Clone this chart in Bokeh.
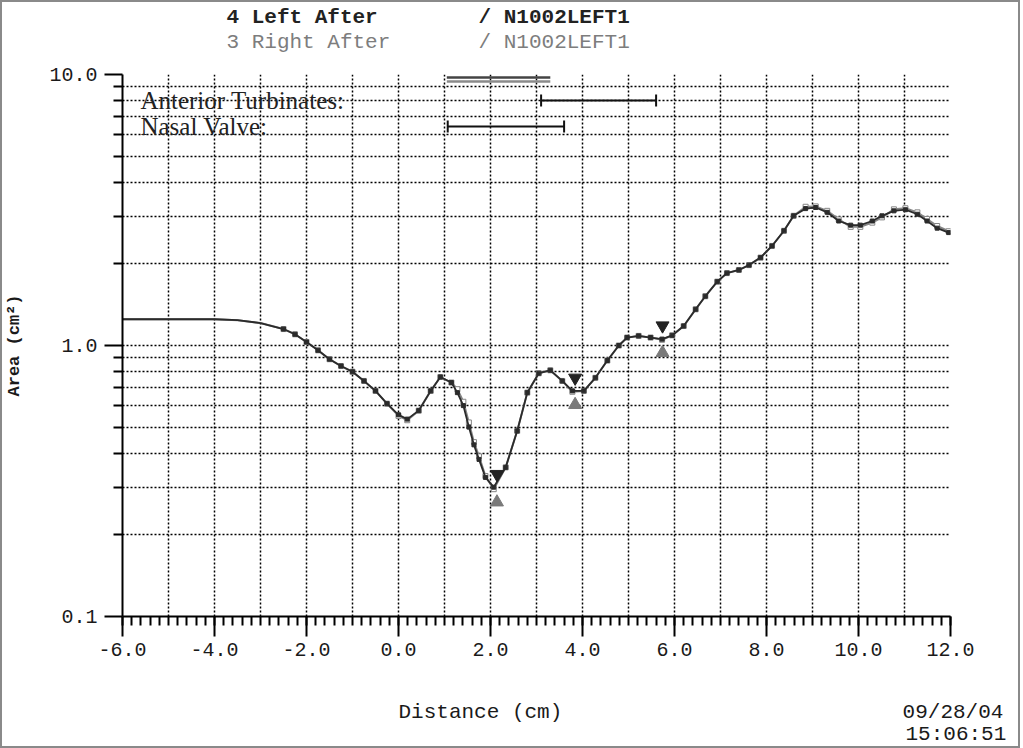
import numpy as np
from bokeh.plotting import figure
from bokeh.models import (Range1d, FixedTicker, SingleIntervalTicker, CustomJSTickFormatter,
                          Label, Title, ColumnDataSource)
from bokeh.embed import file_html
from bokeh.resources import INLINE

# ---------------- data ----------------
distance = [-6.0, -5.5, -5.0, -4.5, -4.0, -3.5, -3.0, -2.75, -2.5, -2.25, -2.0, -1.75, -1.5,
            -1.25, -1.0, -0.75, -0.5, -0.25, 0.0, 0.19, 0.44, 0.70, 0.91, 1.15, 1.28, 1.41,
            1.53, 1.64, 1.75, 1.89, 2.07, 2.33, 2.58, 2.80, 3.05, 3.30, 3.56, 3.78, 4.03,
            4.28, 4.54, 4.79, 4.97, 5.22, 5.48, 5.73, 5.95, 6.20, 6.46, 6.67, 6.93, 7.14,
            7.40, 7.62, 7.87, 8.12, 8.38, 8.59, 8.85, 9.07, 9.32, 9.57, 9.83, 10.04, 10.30,
            10.51, 10.77, 11.02, 11.28, 11.49, 11.71, 11.96]

left_after = [1.25, 1.25, 1.25, 1.25, 1.25, 1.24, 1.21, 1.18, 1.15, 1.10, 1.03, 0.96, 0.89,
              0.84, 0.80, 0.74, 0.68, 0.61, 0.555, 0.535, 0.575, 0.68, 0.765, 0.73, 0.67, 0.60,
              0.50, 0.43, 0.38, 0.326, 0.30, 0.355, 0.484, 0.67, 0.79, 0.81, 0.74, 0.68, 0.68,
              0.76, 0.88, 1.00, 1.07, 1.085, 1.07, 1.055, 1.09, 1.18, 1.36, 1.52, 1.72, 1.85,
              1.90, 1.98, 2.11, 2.33, 2.65, 3.01, 3.20, 3.23, 3.10, 2.88, 2.78, 2.78, 2.88,
              3.01, 3.14, 3.17, 3.05, 2.88, 2.71, 2.61]

right_after = [1.25, 1.25, 1.25, 1.25, 1.25, 1.24, 1.21, 1.18, 1.15, 1.10, 1.03, 0.96, 0.89,
               0.84, 0.80, 0.74, 0.68, 0.61, 0.55, 0.53, 0.575, 0.68, 0.765, 0.73, 0.69, 0.62,
               0.52, 0.44, 0.39, 0.33, 0.295, 0.355, 0.484, 0.67, 0.79, 0.81, 0.74, 0.675, 0.68,
               0.76, 0.88, 1.00, 1.07, 1.085, 1.07, 1.05, 1.09, 1.18, 1.36, 1.52, 1.72, 1.85,
               1.90, 1.98, 2.11, 2.33, 2.65, 3.01, 3.25, 3.26, 3.14, 2.92, 2.74, 2.74, 2.84,
               2.97, 3.18, 3.21, 3.10, 2.93, 2.76, 2.64]

# minimal cross-sectional areas (MCA) marked with triangles
mca_x = [2.14, 3.84, 5.74]
mca_left = [0.30, 0.68, 1.06]
mca_right = [0.295, 0.675, 1.05]

# anatomical ranges (cm)
turbinates_range = [3.1, 5.6]
valve_range = [1.07, 3.6]
top_bar_range = [1.05, 3.3]

y_major = [0.1, 1.0, 10.0]
y_minor = [0.2, 0.3, 0.4, 0.5, 0.6, 0.7, 0.8, 0.9, 2, 3, 4, 5, 6, 7, 8, 9]

NB = "\u00a0"
header_left = "4 Left After" + NB * 8 + "/ N1002LEFT1"
header_right = "3 Right After" + NB * 7 + "/ N1002LEFT1"
x_title_and_date = "Distance (cm)" + NB * 27 + "09/28/04"
time_text = "15:06:51"
y_title = "Area (cm²)"

DARK = "#2b2b2b"
GRAY = "#858585"
MONO = "Liberation Mono"

p = figure(width=1020, height=748, output_backend="svg", toolbar_location=None, title=None,
           x_range=Range1d(-6, 12), y_range=Range1d(0.1, 10), y_axis_type="log",
           min_border_left=120, min_border_right=72, min_border_top=72,
           min_border_bottom=134)
p.outline_line_color = None
p.background_fill_color = "white"
p.border_fill_color = "white"
p.styles = {"border": "2px solid #8a8a8a", "box-sizing": "border-box"}

# axes
for ax in (p.xaxis[0], p.yaxis[0]):
    ax.axis_line_color = "black"
    ax.axis_line_width = 2
    ax.major_tick_line_color = "black"
    ax.major_tick_line_width = 2
    ax.minor_tick_line_color = "black"
    ax.minor_tick_line_width = 2
    ax.major_tick_in = 0
    ax.minor_tick_in = 0
    ax.major_label_text_font = MONO
    ax.major_label_text_font_size = "20px"
    ax.major_label_text_color = "#1a1a1a"
    ax.formatter = CustomJSTickFormatter(code="return tick.toFixed(1);")

p.xaxis[0].ticker = SingleIntervalTicker(interval=2, num_minor_ticks=10)
p.xaxis[0].major_tick_out = 20
p.xaxis[0].minor_tick_out = 9
p.xaxis[0].major_label_standoff = 6

p.yaxis[0].ticker = FixedTicker(ticks=y_major, minor_ticks=y_minor)
p.yaxis[0].major_tick_out = 18
p.yaxis[0].minor_tick_out = 9
p.yaxis[0].major_label_standoff = 7
p.yaxis[0].axis_label = y_title
p.yaxis[0].axis_label_text_font = MONO
p.yaxis[0].axis_label_text_font_size = "17px"
p.yaxis[0].axis_label_text_font_style = "bold"
p.yaxis[0].axis_label_text_color = "#1a1a1a"
p.yaxis[0].axis_label_standoff = 22

# grids
p.xgrid[0].ticker = SingleIntervalTicker(interval=1)
p.ygrid[0].ticker = FixedTicker(ticks=y_major + y_minor)
for g in (p.xgrid[0], p.ygrid[0]):
    g.grid_line_color = "black"
    g.grid_line_width = 1.5
    g.grid_line_dash = "2 2"
    g.grid_line_alpha = 1.0

# curves (markers drawn only where the reference shows them)
marked = [i for i, x in enumerate(distance) if x >= -2.5]
src_r = ColumnDataSource(dict(x=distance, y=right_after))
src_l = ColumnDataSource(dict(x=distance, y=left_after))
src_rm = ColumnDataSource(dict(x=[distance[i] for i in marked], y=[right_after[i] for i in marked]))
src_lm = ColumnDataSource(dict(x=[distance[i] for i in marked], y=[left_after[i] for i in marked]))
p.line("x", "y", source=src_r, line_color=GRAY, line_width=2)
p.scatter("x", "y", source=src_rm, marker="square", size=5, line_color=GRAY,
          fill_color="white", line_width=1)
p.line("x", "y", source=src_l, line_color=DARK, line_width=1.8)
p.scatter("x", "y", source=src_lm, marker="square", size=4, line_color=DARK,
          fill_color=DARK)

# MCA triangles (down = left, above the curve; up = right, below the curve)
pix = 10 ** (13 / 271)
p.scatter(mca_x, [v * pix for v in mca_left], marker="inverted_triangle",
          size=13, fill_color="#222222", line_color="#222222")
p.scatter(mca_x, [v / pix for v in mca_right], marker="triangle",
          size=13, fill_color="#7a7a7a", line_color="#7a7a7a")

# anatomical range bars
y_turb = 10 ** (1 - 26 / 271)
y_valve = 10 ** (1 - 52 / 271)
for rng, yy in ((turbinates_range, y_turb), (valve_range, y_valve)):
    p.segment(x0=[rng[0]], y0=[yy], x1=[rng[1]], y1=[yy], line_color="#111111", line_width=2)
    p.scatter(rng, [yy, yy], marker="dash", angle=np.pi / 2, size=12,
              line_color="#111111", line_width=2)

p.segment(x0=[top_bar_range[0]], y0=[10 ** (1 - 3 / 271)], x1=[top_bar_range[1]],
          y1=[10 ** (1 - 3 / 271)], line_color="#444444", line_width=2.5)
p.segment(x0=[top_bar_range[0]], y0=[10 ** (1 - 7 / 271)], x1=[top_bar_range[1]],
          y1=[10 ** (1 - 7 / 271)], line_color="#8a8a8a", line_width=2.5)

p.add_layout(Label(x=-5.61, y=y_turb, text="Anterior Turbinates:", text_font="Liberation Serif",
                   text_font_size="25px", text_color="#222222", text_baseline="middle"))
p.add_layout(Label(x=-5.61, y=y_valve, text="Nasal Valve:", text_font="Liberation Serif",
                   text_font_size="25px", text_color="#222222", text_baseline="middle"))


def spacer(standoff):
    return Title(text=NB, text_font=MONO, text_font_size="10px", standoff=standoff,
                 text_color="white")


def make_title(text, offset, standoff, fallback, **kw):
    try:
        return Title(text=text, align="left", offset=offset, standoff=standoff,
                     text_font=MONO, **kw)
    except Exception:
        return Title(text=text, align="left", offset=offset, standoff=fallback,
                     text_font=MONO, **kw)


# header rows (above panel: first added sits nearest the frame)
p.add_layout(spacer(8), "above")
p.add_layout(make_title(header_right, 104, 0, 0, text_font_size="21px",
                        text_font_style="normal", text_color="#7d7d7d"), "above")
p.add_layout(make_title(header_left, 104, 0, 0, text_font_size="21px",
                        text_font_style="bold", text_color="#222222"), "above")

# footer rows (below panel: after the x axis)
p.add_layout(spacer(27), "below")
p.add_layout(make_title(x_title_and_date, 276, 0, 0, text_font_size="21px",
                        text_font_style="normal", text_color="#1a1a1a"), "below")
p.add_layout(make_title(time_text, 783, -6, 0, text_font_size="21px",
                        text_font_style="normal", text_color="#1a1a1a"), "below")

open("out.html", "w").write(file_html(p, INLINE))
